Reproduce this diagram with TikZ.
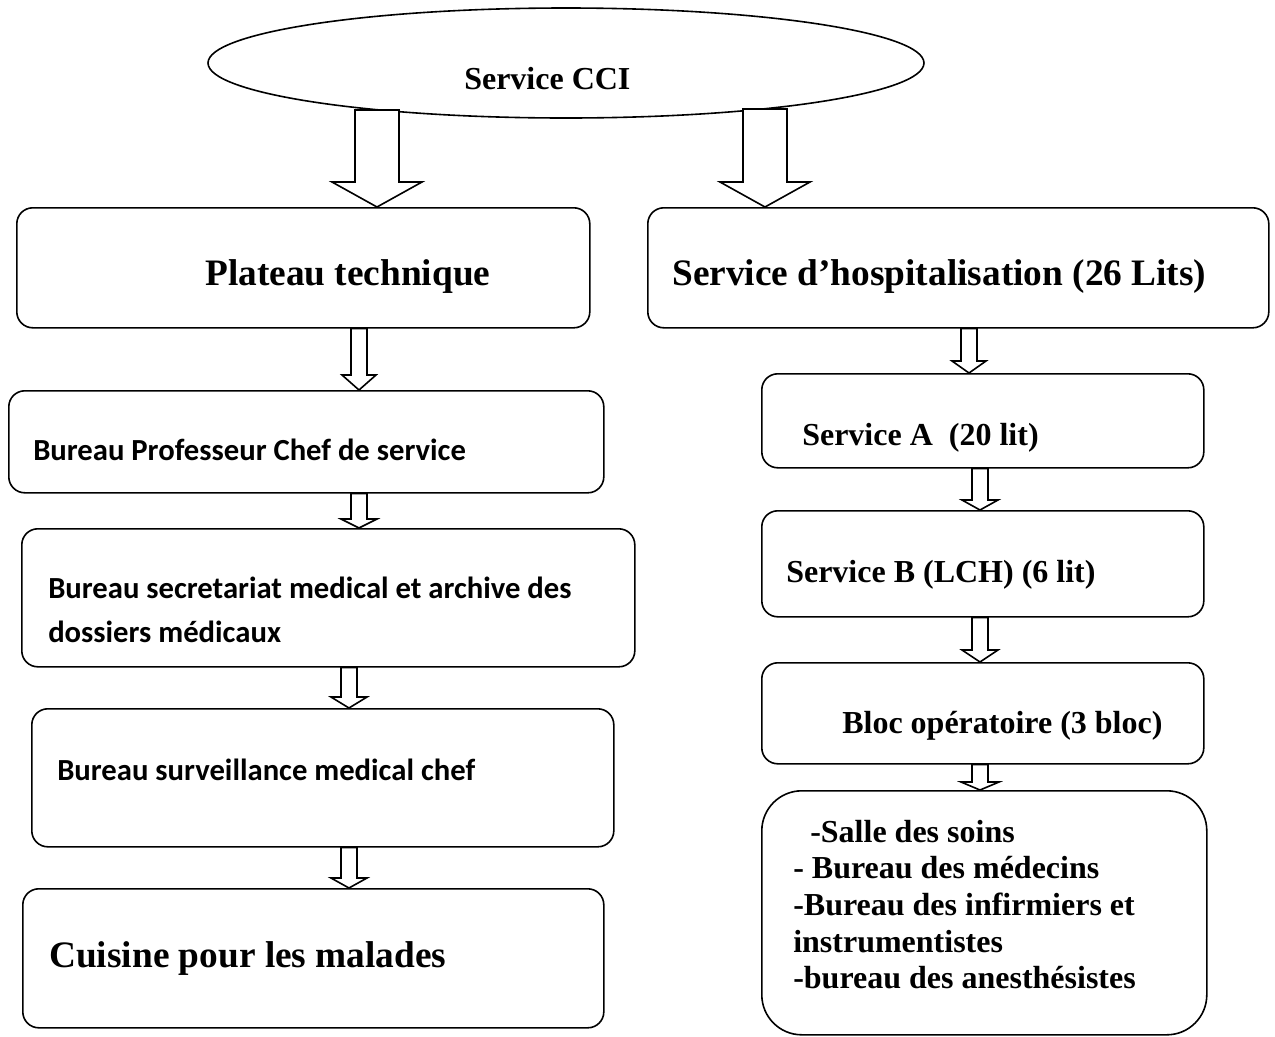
\documentclass[tikz,border=0pt]{standalone}
\usepackage{fontspec}
\setmainfont{Liberation Serif}
\newfontfamily\calibri{Carlito}
\usetikzlibrary{calc}
\usetikzlibrary{shapes}

% hollow block arrow: x, start, end, shaft half width, head half width, head length
\newcommand{\hollowarrow}[6]{%
  \draw[hollow] let \p1=(#1,0), \p2=#2, \p3=#3 in
    (\x1-#4*0.75pt,\y2) -- (\x1-#4*0.75pt,\y3+#6*0.75pt) -- (\x1-#5*0.75pt,\y3+#6*0.75pt)
    -- (\x1,\y3) -- (\x1+#5*0.75pt,\y3+#6*0.75pt) -- (\x1+#4*0.75pt,\y3+#6*0.75pt)
    -- (\x1+#4*0.75pt,\y2) -- cycle;}

\tikzset{
  box/.style={draw, line width=1.2pt, rounded corners=12pt, anchor=north west, inner sep=0pt},
  hollow/.style={draw, fill=white, line width=1.2pt, line join=miter},
  lbl/.style={anchor=base west, inner sep=0pt, font=\fontsize{24}{27.4}\selectfont\bfseries},
  biglbl/.style={anchor=base west, inner sep=0pt, font=\fontsize{28}{32}\selectfont\bfseries},
  sanslbl/.style={anchor=base west, inner sep=0pt, font=\calibri\fontsize{23}{33}\selectfont\bfseries}
}

\begin{document}
\begin{tikzpicture}[x=0.75pt, y=-0.75pt]
  \useasboundingbox (0,0) rectangle (1275,1036);

  % top
  \node[draw, ellipse, line width=1.2pt, minimum width=716*0.75pt, minimum height=110*0.75pt, inner sep=0pt] (cci) at (566,63) {};
  \node[lbl] (ccitxt) at (464,89) {Service CCI};

  % left column
  \node[box, minimum width=573*0.75pt, minimum height=120*0.75pt] (plateau) at (16,207) {};
  \node[box, minimum width=595*0.75pt, minimum height=102*0.75pt] (prof) at (8,390) {};
  \node[box, minimum width=613*0.75pt, minimum height=138*0.75pt] (secr) at (21,528) {};
  \node[box, minimum width=582*0.75pt, minimum height=138*0.75pt] (surv) at (31,708) {};
  \node[box, minimum width=581*0.75pt, minimum height=139*0.75pt] (cuis) at (22,888) {};

  \node[biglbl] (plateautxt) at (205,285) {Plateau technique};
  \node[sanslbl] (proftxt) at (33,460) {Bureau Professeur Chef de service};
  \node[sanslbl] (secrtxt) at (48,598) {Bureau secretariat medical et archive des};
  \node[sanslbl] (secrtxtb) at (48,642) {dossiers médicaux};
  \node[sanslbl] (survtxt) at (57,780) {Bureau surveillance medical chef};
  \node[biglbl] (cuistxt) at (49,967) {Cuisine pour les malades};

  % right column
  \node[box, minimum width=621*0.75pt, minimum height=120*0.75pt] (hosp) at (647,207) {};
  \node[box, minimum width=442*0.75pt, minimum height=94*0.75pt] (serva) at (761,373) {};
  \node[box, minimum width=442*0.75pt, minimum height=106*0.75pt] (servb) at (761,510) {};
  \node[box, minimum width=442*0.75pt, minimum height=101*0.75pt] (bloc) at (761,662) {};
  \node[box, rounded corners=30pt, minimum width=445*0.75pt, minimum height=244*0.75pt] (salles) at (761,790) {};

  \node[biglbl] (hosptxt) at (672,285) {Service d’hospitalisation (26 Lits)};
  \node[lbl] (servatxt) at (802,445) {Service A\ \ (20 lit)};
  \node[lbl] (servbtxt) at (786,582) {Service B (LCH) (6 lit)};
  \node[lbl] (bloctxt) at (842,733) {Bloc opératoire (3 bloc)};
  \node[lbl] (sallestxt) at (810,842) {-Salle des soins};
  \node[lbl] (sallestxtb) at (793,878) {- Bureau des médecins};
  \node[lbl] (sallestxtc) at (793,915) {-Bureau des infirmiers et};
  \node[lbl] (sallestxtd) at (793,952) {instrumentistes};
  \node[lbl] (sallestxte) at (793,988) {-bureau des anesthésistes};

  % arrows
  \hollowarrow{377}{($(cci.center)+(0,47)$)}{(plateau.north)}{22}{45}{25}
  \hollowarrow{765}{($(cci.center)+(0,46)$)}{(hosp.north)}{22}{45}{25}
  \hollowarrow{359}{(plateau.south)}{(prof.north)}{8}{17}{15}
  \hollowarrow{359}{(prof.south)}{(secr.north)}{8}{18}{9}
  \hollowarrow{349}{(secr.south)}{(surv.north)}{8}{18}{11}
  \hollowarrow{349}{(surv.south)}{(cuis.north)}{8}{18}{10}
  \hollowarrow{969}{(hosp.south)}{(serva.north)}{8}{17}{12}
  \hollowarrow{980}{(serva.south)}{(servb.north)}{8}{18}{10}
  \hollowarrow{980}{(servb.south)}{(bloc.north)}{8}{18}{12}
  \hollowarrow{980}{(bloc.south)}{(salles.north)}{8}{19}{8}
\end{tikzpicture}
\end{document}
